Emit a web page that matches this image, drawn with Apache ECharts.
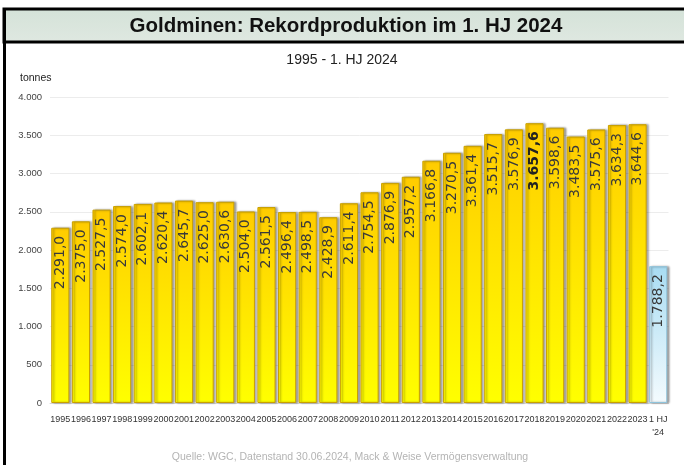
<!DOCTYPE html>
<html><head><meta charset="utf-8">
<script src="https://cdn.jsdelivr.net/npm/echarts@6/dist/echarts.min.js"></script>
<style>html,body{margin:0;padding:0;background:#fff}#c{width:684px;height:465px}</style>
</head><body><div id="c"></div>
<script>
var categories = ['1995','1996','1997','1998','1999','2000','2001','2002','2003','2004','2005','2006','2007','2008','2009','2010','2011','2012','2013','2014','2015','2016','2017','2018','2019','2020','2021','2022','2023','1 HJ\n\'24'];
var production = [2291.0,2375.0,2527.5,2574.0,2602.1,2620.4,2645.7,2625.0,2630.6,2504.0,2561.5,2496.4,2498.5,2428.9,2611.4,2754.5,2876.9,2957.2,3166.8,3270.5,3361.4,3515.7,3576.9,3657.6,3598.6,3483.5,3575.6,3634.3,3644.6,1788.2];
var yTicks = [0,500,1000,1500,2000,2500,3000,3500,4000];

function de(v, dec){
  var s = v.toFixed(dec);
  var parts = s.split('.');
  var ip = parts[0].replace(/\B(?=(\d{3})+(?!\d))/g,'.');
  return dec ? ip + ',' + parts[1] : ip;
}
var goldV = new echarts.graphic.LinearGradient(0,0,0,1,[
  {offset:0,color:'#ffcc00'},{offset:0.5,color:'#ffe600'},{offset:1,color:'#ffff00'}]);
var blueV = new echarts.graphic.LinearGradient(0,0,0,1,[
  {offset:0,color:'#a8dcf2'},{offset:1,color:'#f4fbfe'}]);
var barData = production.map(function(v,i){
  var last = i === production.length-1;
  return {
    value: v,
    itemStyle: last ? {color: blueV, borderColor:'#8fc4dc'} : {color: goldV},
    label: (i === 23) ? {fontWeight:'bold', color:'#222'} : {}
  };
});
var chart = echarts.init(document.getElementById('c'), null, {renderer:'canvas'});
chart.setOption({
  animation:false,
  backgroundColor:'#ffffff',
  graphic:[
    {type:'rect', shape:{x:4,y:9,width:682,height:33}, style:{
      fill:new echarts.graphic.LinearGradient(0,0,0,1,[{offset:0,color:'#d4e2d8'},{offset:1,color:'#dfe8e1'}]),
      stroke:'#000', lineWidth:3}},
    {type:'line', shape:{x1:4.5,y1:8,x2:4.5,y2:465}, style:{stroke:'#000',lineWidth:3}},
    {type:'text', x:346, y:26, style:{text:'Goldminen: Rekordproduktion im 1. HJ 2024', fontFamily:'Liberation Sans, Arial, sans-serif', fontWeight:'bold', fontSize:20.5, fill:'#111', align:'center', verticalAlign:'middle'}},
    {type:'text', x:342, y:60, style:{text:'1995 - 1. HJ 2024', fontFamily:'Liberation Sans, Arial, sans-serif', fontSize:14, fill:'#222', align:'center', verticalAlign:'middle'}},
    {type:'text', x:20, y:78, style:{text:'tonnes', fontFamily:'Liberation Sans, sans-serif', fontSize:10.5, fill:'#222', align:'left', verticalAlign:'middle'}},
    {type:'text', x:350, y:457, style:{text:'Quelle: WGC, Datenstand 30.06.2024, Mack & Weise Vermögensverwaltung', fontFamily:'Liberation Sans, Arial, sans-serif', fontSize:10.5, fill:'#b4b4b4', align:'center', verticalAlign:'middle'}}
  ],
  grid:{left:50, right:15.5, top:97, bottom:62, containLabel:false},
  xAxis:{type:'category', data:categories,
    axisLine:{lineStyle:{color:'#d9d9d9'}}, axisTick:{show:false},
    axisLabel:{interval:0, fontFamily:'Liberation Sans, sans-serif', fontSize:9, color:'#333', margin:10, lineHeight:13}},
  yAxis:{type:'value', min:0, max:4000, interval:500,
    axisLine:{show:false}, axisTick:{show:false},
    splitLine:{lineStyle:{color:'#ececec'}},
    axisLabel:{fontFamily:'Liberation Sans, sans-serif', fontSize:9.5, color:'#444', margin:8,
      formatter:function(v){return de(v,0);}}},
  series:[{type:'bar', data:barData, barCategoryGap:'12%',
    itemStyle:{borderColor:'#c9a000', borderWidth:1, shadowColor:'rgba(0,0,0,0.35)', shadowOffsetX:2, shadowBlur:2},
    label:{show:true, position:'insideTop', distance:8, rotate:90, align:'right', verticalAlign:'middle',
      fontFamily:'DejaVu Sans, sans-serif', fontSize:14, color:'#3a3a3a',
      formatter:function(p){return de(p.value,1);}}
  }]
});
</script></body></html>
